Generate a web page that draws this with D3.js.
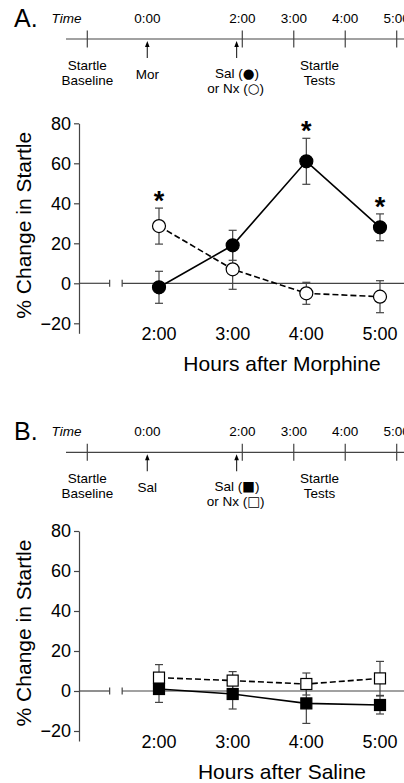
<!DOCTYPE html>
<html><head><meta charset="utf-8">
<script src="https://cdn.jsdelivr.net/npm/d3@7"></script>
<style>
body{margin:0;background:#fff}
text{font-family:Arial,"Liberation Sans",Helvetica,sans-serif;fill:#000}
</style>
</head><body>
<svg id="c" width="404" height="783"></svg>
<script>
// ---------- data ----------
const hours = [2, 3, 4, 5];
const hourLabels = ["2:00", "3:00", "4:00", "5:00"];
const yTicks = [-20, 0, 20, 40, 60, 80];

// Panel A: Morphine, then Saline (filled) or Naloxone (open)
const aSalMean = [-2, 19, 61, 28];
const aSalErr  = [8, 7.5, 11.5, 6.7];
const aSalSig  = [false, false, true, true];
const aNxMean  = [28.6, 7, -5, -6.7];
const aNxErr   = [9, 10, 5.5, 8];
const aNxSig   = [true, false, false, false];

// Panel B: Saline, then Saline (filled) or Naloxone (open)
const bSalMean = [1, -1.5, -6.2, -7];
const bSalErr  = [6.7, 7.5, 10, 4.5];
const bNxMean  = [6.7, 5.2, 3.5, 6.3];
const bNxErr   = [6.5, 4.5, 5.5, 8.5];

// Timeline
const tlTickTimes  = [-1, 2, 3, 4, 5];
const tlLabelTimes = [0, 2, 3, 4, 5];
const tlLabels     = ["0:00", "2:00", "3:00", "4:00", "5:00"];
const tlArrowTimes = [0, 1.88];

const svg = d3.select("#c");
const FONT = 'Arial,"Liberation Sans",Helvetica,sans-serif';

function timeline(g, L, letter, drugLabel, salSym, nxSym) {
  const t = d3.scaleLinear().domain([-1.35, -1, 0, 2, 5, 6]).range([66, 87.3, 147.3, 242.3, 396.7, 448]);
  g.append("text").attr("x", 14).attr("y", L - 12).attr("font-size", 25).text(letter);
  g.append("text").attr("x", t(-1.35) + 0.5).attr("y", L - 16).attr("font-size", 13.5)
    .attr("font-style", "italic").attr("text-anchor", "middle").text("Time");
  g.append("line").attr("x1", t(-1.35)).attr("x2", t(6)).attr("y1", L).attr("y2", L)
    .attr("stroke", "#444").attr("stroke-width", 1.2);
  g.selectAll(".tk").data(tlTickTimes).enter().append("line")
    .attr("x1", d => t(d)).attr("x2", d => t(d)).attr("y1", L - 8.5).attr("y2", L + 8.5)
    .attr("stroke", "#444").attr("stroke-width", 1.2);
  g.selectAll(".tl").data(tlLabelTimes).enter().append("text")
    .attr("x", d => t(d)).attr("y", L - 16).attr("font-size", 13.5).attr("text-anchor", "middle")
    .text((d, i) => tlLabels[i]);
  tlArrowTimes.forEach(a => {
    const x = t(a);
    g.append("line").attr("x1", x).attr("x2", x).attr("y1", L + 6).attr("y2", L + 19)
      .attr("stroke", "#333").attr("stroke-width", 1.2);
    g.append("path").attr("d", `M${x},${L + 2}L${x - 2.3},${L + 8}L${x + 2.3},${L + 8}Z`).attr("fill", "#000");
  });
  const lab = (x, y, s) => g.append("text").attr("x", x).attr("y", y).attr("font-size", 13.5)
    .attr("text-anchor", "middle").text(s);
  lab(t(-1), L + 31, "Startle"); lab(t(-1), L + 46, "Baseline");
  lab(t(0), L + 40, drugLabel);
  lab(t(3.5), L + 31, "Startle"); lab(t(3.5), L + 46, "Tests");
  const sym = (x, y, pre, s) => {
    const tx = g.append("text").attr("x", x).attr("y", y).attr("font-size", 13.5).attr("text-anchor", "middle");
    tx.append("tspan").text(pre + " (");
    tx.append("tspan").attr("font-family", '"DejaVu Sans"').text(s);
    tx.append("tspan").text(")");
  };
  sym(t(1.88) + 0.5, L + 39, "Sal", salSym);
  sym(t(1.88) - 1, L + 53.5, "or Nx", nxSym);
}

function chart(g, zero, xTitle, sal, salErr, nx, nxErr, salSig, nxSig, shape) {
  const x = d3.scaleLinear().domain([2, 5]).range([159, 380]);
  const y = d3.scaleLinear().domain([-25, 80]).range([zero + 50, zero - 160]);
  const axX = 79;
  const ax = g.append("g").attr("transform", `translate(${axX},0)`)
    .call(d3.axisLeft(y).tickValues(yTicks).tickSize(5).tickSizeOuter(0).tickPadding(3));
  ax.select(".domain").attr("stroke", "#444").attr("stroke-width", 1.2);
  ax.selectAll(".tick line").attr("stroke", "#444").attr("stroke-width", 1.2);
  ax.selectAll(".tick text").attr("font-size", 18).attr("font-family", FONT).attr("fill", "#000");

  // zero line with axis break
  const brk = [1.33, 1.5];
  const z = y(0);
  g.append("line").attr("x1", axX).attr("x2", x(brk[0])).attr("y1", z).attr("y2", z).attr("stroke", "#444").attr("stroke-width", 1.2);
  g.append("line").attr("x1", x(brk[1])).attr("x2", 404).attr("y1", z).attr("y2", z).attr("stroke", "#444").attr("stroke-width", 1.2);
  brk.forEach(b => g.append("line").attr("x1", x(b)).attr("x2", x(b)).attr("y1", z - 3.5).attr("y2", z + 3.5).attr("stroke", "#444").attr("stroke-width", 1.2));

  g.selectAll(".xl").data(hours).enter().append("text")
    .attr("x", d => x(d)).attr("y", z + 57).attr("font-size", 18).attr("text-anchor", "middle")
    .text((d, i) => hourLabels[i]);
  g.append("text").attr("x", 282).attr("y", z + 88).attr("font-size", 21).attr("text-anchor", "middle").text(xTitle);
  g.append("text").attr("transform", `translate(31,${z - 58}) rotate(-90)`)
    .attr("font-size", 21).attr("text-anchor", "middle").text("% Change in Startle");

  const line = d3.line().x((d, i) => x(hours[i])).y(d => y(d));
  g.append("path").attr("d", line(nx)).attr("fill", "none").attr("stroke", "#000").attr("stroke-width", 1.6).attr("stroke-dasharray", "6,3");
  g.append("path").attr("d", line(sal)).attr("fill", "none").attr("stroke", "#000").attr("stroke-width", 1.6);

  const errs = (m, e) => m.forEach((v, i) => {
    const xx = x(hours[i]);
    const eg = g.append("g").attr("stroke", "#444").attr("stroke-width", 1.2);
    eg.append("line").attr("x1", xx).attr("x2", xx).attr("y1", y(v - e[i])).attr("y2", y(v + e[i]));
    [v - e[i], v + e[i]].forEach(c => eg.append("line").attr("x1", xx - 4).attr("x2", xx + 4).attr("y1", y(c)).attr("y2", y(c)));
  });
  errs(nx, nxErr); errs(sal, salErr);

  const marks = (m, fill) => m.forEach((v, i) => {
    const xx = x(hours[i]), yy = y(v);
    if (shape === "circle") {
      g.append("circle").attr("cx", xx).attr("cy", yy).attr("r", 6.5).attr("fill", fill).attr("stroke", "#000").attr("stroke-width", 1.2);
    } else {
      g.append("rect").attr("x", xx - 5.5).attr("y", yy - 5.5).attr("width", 11).attr("height", 11).attr("fill", fill).attr("stroke", "#000").attr("stroke-width", 1.2);
    }
  });
  marks(nx, "#fff"); marks(sal, "#000");

  const stars = (m, e, sig) => m.forEach((v, i) => {
    if (!sig[i]) return;
    g.append("text").attr("x", x(hours[i])).attr("y", y(v + e[i]) + 2).attr("font-size", 27)
      .attr("font-weight", "bold").attr("text-anchor", "middle").text("*");
  });
  if (salSig) stars(sal, salErr, salSig);
  if (nxSig) stars(nx, nxErr, nxSig);
}

const gA = svg.append("g");
timeline(gA, 39, "A.", "Mor", "\u25CF", "\u25CB");
chart(gA, 283.3, "Hours after Morphine", aSalMean, aSalErr, aNxMean, aNxErr, aSalSig, aNxSig, "circle");

const gB = svg.append("g");
timeline(gB, 452.3, "B.", "Sal", "\u25A0", "\u25A1");
chart(gB, 691, "Hours after Saline", bSalMean, bSalErr, bNxMean, bNxErr, null, null, "square");
</script>
</body></html>
